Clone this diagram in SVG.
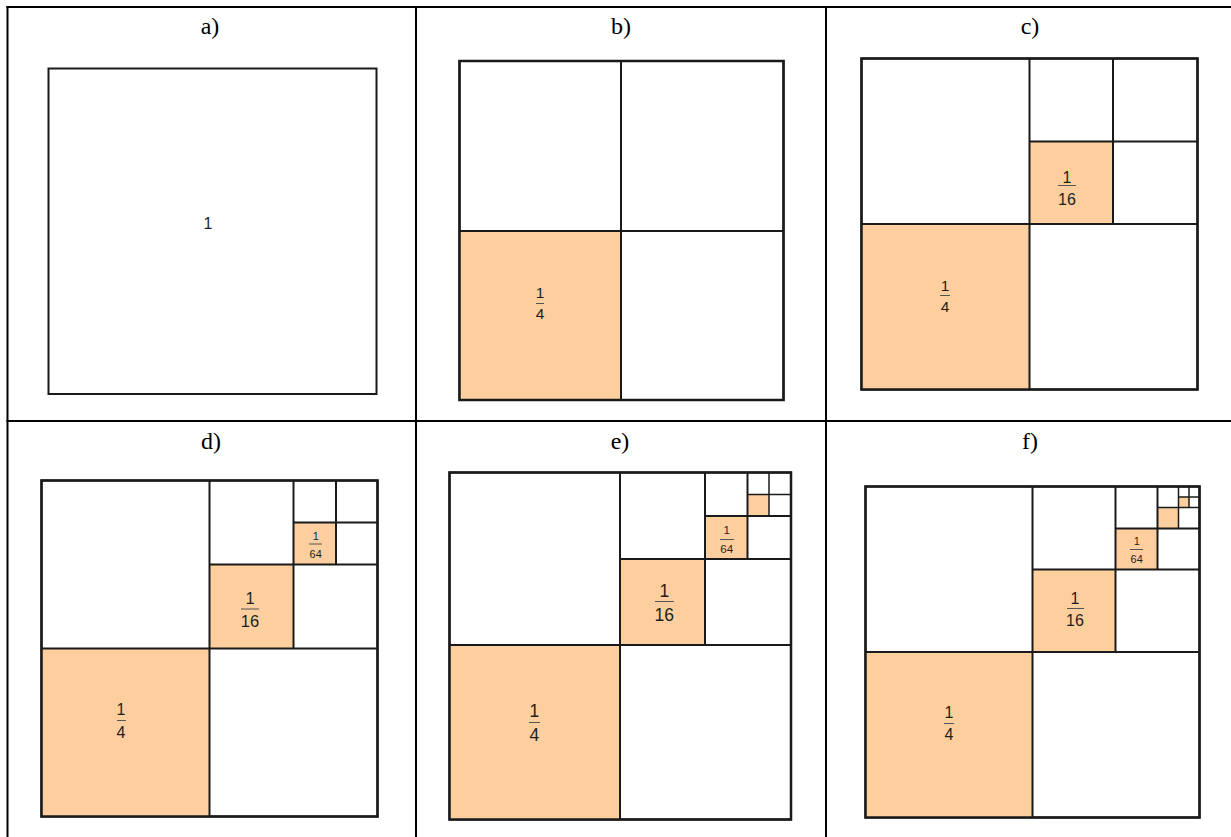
<svg xmlns="http://www.w3.org/2000/svg" width="1231" height="837" viewBox="0 0 1231 837">
<style>
.bg{fill:#ffffff}
.tbl{stroke:#000;stroke-width:2;fill:none}
.sq{fill:#ffffff;stroke:#1a1a1a;stroke-width:2}
.or{fill:#fdcf9e;stroke:none}
.ln{stroke:#1a1a1a;stroke-width:2;fill:none}
.ln2{stroke:#1a1a1a;stroke-width:1.5;fill:none}
.cap{font-family:"Liberation Serif","Times New Roman",serif;font-size:24px;fill:#000;text-anchor:middle}
.fr{font-family:"Liberation Sans",Arial,sans-serif;fill:#1e1e1e;text-anchor:middle}
.bar{stroke:#555;stroke-width:1}
</style>
<rect class="bg" x="0" y="0" width="1231" height="837"/>
<g id="table">
<line class="tbl" x1="6.5" y1="7" x2="1231" y2="7"/>
<line class="tbl" x1="6.5" y1="421" x2="1231" y2="421"/>
<line class="tbl" x1="7.5" y1="6" x2="7.5" y2="837"/>
<line class="tbl" x1="416" y1="6" x2="416" y2="837"/>
<line class="tbl" x1="826" y1="6" x2="826" y2="837"/>
</g>
<g id="panel-a">
<text class="cap" x="210" y="34">a)</text>
<rect class="sq" x="48.5" y="68.5" width="328" height="325.5"/>
<text class="fr" x="208" y="229" font-size="16">1</text>
</g>
<g id="panel-b">
<text class="cap" x="621" y="34">b)</text>
<rect class="sq" x="459.5" y="61" width="324" height="339"/>
<rect class="or" x="459.5" y="231" width="161.5" height="169"/>
<line class="ln" x1="621" y1="61" x2="621" y2="400"/>
<line class="ln" x1="459.5" y1="231" x2="783.5" y2="231"/>
<rect x="459.5" y="61" width="324" height="339" fill="none" stroke="#1a1a1a" stroke-width="2.5"/>
<text class="fr" x="540" y="298" font-size="15.5">1</text>
<line class="bar" x1="536" y1="303.5" x2="544" y2="303.5"/>
<text class="fr" x="540" y="319" font-size="15.5">4</text>
</g>
<g id="panel-c">
<text class="cap" x="1030" y="34">c)</text>
<rect class="sq" x="861.5" y="58.5" width="336" height="331"/>
<rect class="or" x="861.5" y="224" width="168" height="165.5"/>
<rect class="or" x="1029.5" y="141.5" width="83.5" height="82.5"/>
<line class="ln" x1="1029.5" y1="58.5" x2="1029.5" y2="389.5"/>
<line class="ln" x1="861.5" y1="224" x2="1197.5" y2="224"/>
<line class="ln" x1="1113" y1="58.5" x2="1113" y2="224"/>
<line class="ln" x1="1029.5" y1="141.5" x2="1197.5" y2="141.5"/>
<rect x="861.5" y="58.5" width="336" height="331" fill="none" stroke="#1a1a1a" stroke-width="2.5"/>
<text class="fr" x="945" y="291" font-size="15.5">1</text>
<line class="bar" x1="940" y1="295.5" x2="950" y2="295.5"/>
<text class="fr" x="945" y="312" font-size="15.5">4</text>
<text class="fr" x="1067" y="183" font-size="16">1</text>
<line class="bar" x1="1058" y1="185.5" x2="1076" y2="185.5"/>
<text class="fr" x="1067" y="205" font-size="16">16</text>
</g>
<g id="panel-d">
<text class="cap" x="211" y="449">d)</text>
<rect class="sq" x="41.5" y="480.5" width="336" height="336"/>
<rect class="or" x="41.5" y="648.5" width="168" height="168"/>
<rect class="or" x="209.5" y="564.5" width="84" height="84"/>
<rect class="or" x="293.5" y="522.5" width="42.5" height="42"/>
<line class="ln" x1="209.5" y1="480.5" x2="209.5" y2="816.5"/>
<line class="ln" x1="41.5" y1="648.5" x2="377.5" y2="648.5"/>
<line class="ln" x1="293.5" y1="480.5" x2="293.5" y2="648.5"/>
<line class="ln" x1="209.5" y1="564.5" x2="377.5" y2="564.5"/>
<line class="ln" x1="336" y1="480.5" x2="336" y2="564.5"/>
<line class="ln" x1="293.5" y1="522.5" x2="377.5" y2="522.5"/>
<rect x="41.5" y="480.5" width="336" height="336" fill="none" stroke="#1a1a1a" stroke-width="2.5"/>
<text class="fr" x="121" y="715" font-size="16">1</text>
<line class="bar" x1="117" y1="720.5" x2="126" y2="720.5"/>
<text class="fr" x="121" y="737.5" font-size="16">4</text>
<text class="fr" x="250" y="604" font-size="16.5">1</text>
<line class="bar" x1="241" y1="609" x2="259" y2="609"/>
<text class="fr" x="250" y="626.5" font-size="16.5">16</text>
<text class="fr" x="315.7" y="540" font-size="11">1</text>
<line class="bar" x1="309" y1="544" x2="322" y2="544"/>
<text class="fr" x="315.7" y="558" font-size="11">64</text>
</g>
<g id="panel-e">
<text class="cap" x="620" y="449">e)</text>
<rect class="sq" x="449.5" y="472.5" width="341.5" height="347"/>
<rect class="or" x="449.5" y="645" width="170.5" height="174.5"/>
<rect class="or" x="620" y="559" width="85" height="86"/>
<rect class="or" x="705" y="516" width="42.5" height="43"/>
<rect class="or" x="747.5" y="494.5" width="21.5" height="21.5"/>
<line class="ln" x1="620" y1="472.5" x2="620" y2="819.5"/>
<line class="ln" x1="449.5" y1="645" x2="791" y2="645"/>
<line class="ln" x1="705" y1="472.5" x2="705" y2="645"/>
<line class="ln" x1="620" y1="559" x2="791" y2="559"/>
<line class="ln" x1="747.5" y1="472.5" x2="747.5" y2="559"/>
<line class="ln" x1="705" y1="516" x2="791" y2="516"/>
<line class="ln2" x1="769" y1="472.5" x2="769" y2="516"/>
<line class="ln2" x1="747.5" y1="494.5" x2="791" y2="494.5"/>
<rect x="449.5" y="472.5" width="341.5" height="347" fill="none" stroke="#1a1a1a" stroke-width="2.5"/>
<text class="fr" x="534.3" y="716.5" font-size="17.5">1</text>
<line class="bar" x1="529" y1="722.5" x2="540" y2="722.5"/>
<text class="fr" x="534.3" y="741" font-size="17.5">4</text>
<text class="fr" x="664.3" y="596.5" font-size="17.5">1</text>
<line class="bar" x1="655" y1="601.5" x2="674" y2="601.5"/>
<text class="fr" x="664.3" y="621" font-size="17.5">16</text>
<text class="fr" x="726.7" y="534" font-size="11.5">1</text>
<line class="bar" x1="720" y1="539.5" x2="734" y2="539.5"/>
<text class="fr" x="726.7" y="553.3" font-size="11.5">64</text>
</g>
<g id="panel-f">
<text class="cap" x="1030" y="449">f)</text>
<rect class="sq" x="865.5" y="486.5" width="334" height="331"/>
<rect class="or" x="865.5" y="652" width="167" height="165.5"/>
<rect class="or" x="1032.5" y="569.5" width="83" height="82.5"/>
<rect class="or" x="1115.5" y="528.5" width="42" height="41"/>
<rect class="or" x="1157.5" y="507.5" width="21" height="21"/>
<rect class="or" x="1178.5" y="497" width="10.5" height="10.5"/>
<line class="ln" x1="1032.5" y1="486.5" x2="1032.5" y2="817.5"/>
<line class="ln" x1="865.5" y1="652" x2="1199.5" y2="652"/>
<line class="ln" x1="1115.5" y1="486.5" x2="1115.5" y2="652"/>
<line class="ln" x1="1032.5" y1="569.5" x2="1199.5" y2="569.5"/>
<line class="ln" x1="1157.5" y1="486.5" x2="1157.5" y2="569.5"/>
<line class="ln" x1="1115.5" y1="528.5" x2="1199.5" y2="528.5"/>
<line class="ln2" x1="1178.5" y1="486.5" x2="1178.5" y2="528.5"/>
<line class="ln2" x1="1157.5" y1="507.5" x2="1199.5" y2="507.5"/>
<line class="ln2" x1="1189" y1="486.5" x2="1189" y2="507.5"/>
<line class="ln2" x1="1178.5" y1="497" x2="1199.5" y2="497"/>
<rect x="865.5" y="486.5" width="334" height="331" fill="none" stroke="#1a1a1a" stroke-width="2.5"/>
<text class="fr" x="949" y="718.3" font-size="16">1</text>
<line class="bar" x1="944" y1="723.5" x2="954" y2="723.5"/>
<text class="fr" x="949" y="740" font-size="16">4</text>
<text class="fr" x="1075" y="604" font-size="16">1</text>
<line class="bar" x1="1067" y1="608.5" x2="1084" y2="608.5"/>
<text class="fr" x="1075" y="626" font-size="16">16</text>
<text class="fr" x="1136.7" y="545" font-size="11">1</text>
<line class="bar" x1="1130" y1="549.5" x2="1143" y2="549.5"/>
<text class="fr" x="1136.7" y="562.7" font-size="11">64</text>
</g>
</svg>
